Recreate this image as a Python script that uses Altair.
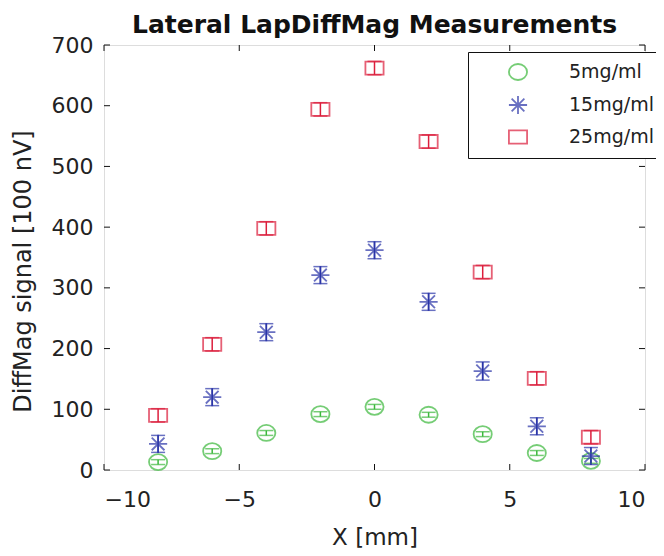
import altair as alt
import pandas as pd

xs = [-8, -6, -4, -2, 0, 2, 4, 6, 8]
series_names = ["5mg/ml", "15mg/ml", "25mg/ml"]
y_5 = [13, 31, 61, 92, 104, 91, 59, 28, 15]
y_15 = [43, 120, 227, 321, 362, 277, 163, 72, 23]
y_25 = [90, 207, 398, 594, 662, 541, 326, 151, 54]
e_5 = [4, 4, 4, 4, 4, 4, 4, 4, 4]
e_15 = [14, 14, 14, 14, 14, 14, 15, 14, 14]
e_25 = [11, 11, 11, 11, 11, 11, 11, 11, 11]
colors = ["#3cb83c", "#2a34a8", "#dc1e3c"]
x_ticks = [-10, -5, 0, 5, 10]
y_ticks = [0, 100, 200, 300, 400, 500, 600, 700]

rows = []
for name, ys, es in zip(series_names, [y_5, y_15, y_25], [e_5, e_15, e_25]):
    for x, y, e in zip(xs, ys, es):
        rows.append({"series": name, "x": x, "y": y, "lo": y - e, "hi": y + e})
df = pd.DataFrame(rows)

W, H = 541, 425
FONT = "DejaVu Sans"
ellipse = "M-1,0A1,0.88 0 1,0 1,0A1,0.88 0 1,0 -1,0Z"
asterisk = "M-1,0L1,0M0,-1L0,1M-0.7,-0.7L0.7,0.7M-0.7,0.7L0.7,-0.7"
rect = "M-1,-0.72L1,-0.72L1,0.72L-1,0.72Z"
shapes = [ellipse, asterisk, rect]

xscale = alt.Scale(domain=[-10, 10], nice=False)
yscale = alt.Scale(domain=[0, 700], nice=False)
cscale = alt.Scale(domain=series_names, range=colors)
sscale = alt.Scale(domain=series_names, range=shapes)

base = alt.Chart(df)

xaxis = alt.Axis(values=x_ticks, title="X [mm]", grid=False, ticks=False, domain=False,
                 labelFontSize=22, labelPadding=19, titleFontSize=23,
                 titleY=74, titleBaseline="alphabetic",
                 labelColor="#222", titleColor="#222", titleFontWeight="normal",
                 labelFont=FONT, titleFont=FONT)
yaxis = alt.Axis(values=y_ticks, title="DiffMag signal [100 nV]", grid=False, ticks=False,
                 domain=False, labelFontSize=22, labelPadding=11, titleFontSize=24,
                 titleX=-81, titleY=226, titleAngle=270, titleBaseline="middle",
                 titleAlign="center",
                 labelColor="#222", titleColor="#222",
                 titleFontWeight="normal", labelFont=FONT, titleFont=FONT)

color_nolegend = alt.Color("series:N", scale=cscale, sort=series_names, legend=None)

errbars = base.mark_rule(strokeWidth=1.5).encode(
    x=alt.X("x:Q", scale=xscale, axis=xaxis),
    y=alt.Y("lo:Q", scale=yscale, axis=yaxis),
    y2="hi:Q",
    color=color_nolegend,
)
cap_lo = base.mark_tick(thickness=1.5, size=14, orient="horizontal").encode(
    x=alt.X("x:Q", scale=xscale), y=alt.Y("lo:Q", scale=yscale), color=color_nolegend,
)
cap_hi = base.mark_tick(thickness=1.5, size=14, orient="horizontal").encode(
    x=alt.X("x:Q", scale=xscale), y=alt.Y("hi:Q", scale=yscale), color=color_nolegend,
)

legend_cfg = dict(title=None, orient="none", legendX=364, legendY=7,
                  strokeColor="#111", fillColor="white", padding=10,
                  symbolOffset=30, labelOffset=41, labelFontSize=19,
                  labelFont=FONT, labelColor="#222",
                  rowPadding=8, symbolSize=330, symbolStrokeWidth=1.8,
                  symbolFillColor="transparent",
                  labelLimit=300, labelBaseline="middle",
                  labelExpr="datum.label + '\u00a0\u00a0\u00a0\u00a0'")

points = base.mark_point(filled=False, strokeWidth=1.8, size=330).encode(
    x=alt.X("x:Q", scale=xscale),
    y=alt.Y("y:Q", scale=yscale),
    color=alt.Color("series:N", scale=cscale, sort=series_names,
                    legend=alt.Legend(**legend_cfg)),
    shape=alt.Shape("series:N", scale=sscale, sort=series_names,
                    legend=alt.Legend(**legend_cfg)),
)

tick_df_x = pd.DataFrame({"t": x_ticks})
tick_df_y = pd.DataFrame({"t": y_ticks})
xt_bottom = alt.Chart(tick_df_x).mark_rule(color="#111").encode(
    x=alt.X("t:Q", scale=xscale), y=alt.value(H), y2=alt.value(H - 6))
xt_top = alt.Chart(tick_df_x).mark_rule(color="#111").encode(
    x=alt.X("t:Q", scale=xscale), y=alt.value(0), y2=alt.value(6))
yt_left = alt.Chart(tick_df_y).mark_rule(color="#111").encode(
    y=alt.Y("t:Q", scale=yscale), x=alt.value(0), x2=alt.value(6))
yt_right = alt.Chart(tick_df_y).mark_rule(color="#111").encode(
    y=alt.Y("t:Q", scale=yscale), x=alt.value(W), x2=alt.value(W - 6))

chart = alt.layer(errbars, cap_lo, cap_hi, points, xt_bottom, xt_top, yt_left, yt_right).properties(
    width=W, height=H,
    title=alt.Title("Lateral LapDiffMag Measurements", fontSize=25, fontWeight="bold",
                    font=FONT, color="#111", offset=0, dy=24, baseline="alphabetic"),
    autosize=alt.AutoSizeParams(type="none"),
    padding={"left": 96, "top": 37, "right": 11, "bottom": 78},
).resolve_legend(color="independent", shape="independent").configure_view(
    stroke="#111", strokeWidth=1.3).configure(background="white")

chart.save("out.html", embed_options={"renderer": "svg", "actions": False})
